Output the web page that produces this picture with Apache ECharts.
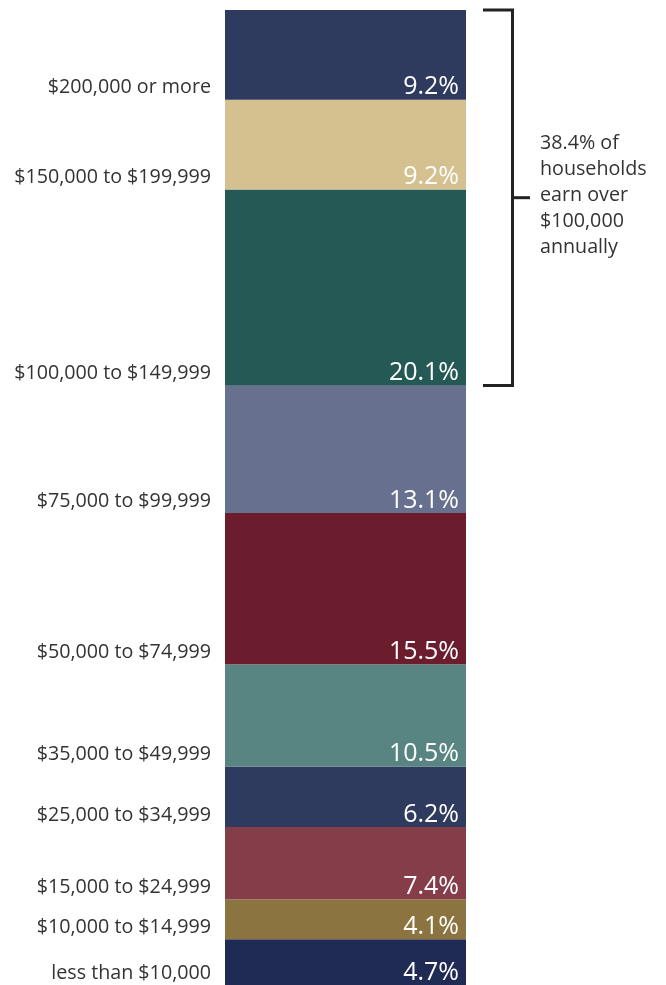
<!DOCTYPE html>
<html>
<head>
<meta charset="utf-8">
<script src="https://cdn.jsdelivr.net/npm/echarts@6/dist/echarts.min.js"></script>
<style>
html,body{margin:0;padding:0;background:#fff;}
#chart{width:666px;height:985px;}
</style>
</head>
<body>
<div id="chart"></div>
<script>
// bottom to top
const categories = [
  'less than $10,000',
  '$10,000 to $14,999',
  '$15,000 to $24,999',
  '$25,000 to $34,999',
  '$35,000 to $49,999',
  '$50,000 to $74,999',
  '$75,000 to $99,999',
  '$100,000 to $149,999',
  '$150,000 to $199,999',
  '$200,000 or more'
];
const shares = [4.7, 4.1, 7.4, 6.2, 10.5, 15.5, 13.1, 20.1, 9.2, 9.2];
const colors = ['#1f2a55', '#8b743f', '#853d4a', '#2f3b5e', '#588581', '#6c1d2d', '#67718f', '#255955', '#d5c190', '#2f3b5e'];
const bracketFrom = 7; // index of first category in the bracket ($100,000+)
const bracketText = ['38.4% of', 'households', 'earn over', '$100,000', 'annually'];

const FONT = 'Open Sans';
const series = [];
shares.forEach((v, i) => {
  series.push({
    type: 'bar', stack: 'v', barWidth: '100%', silent: true,
    data: [v],
    itemStyle: { color: colors[i] },
    label: {
      show: true, position: ['100%', '100%'], align: 'right', verticalAlign: 'bottom',
      offset: [-7, 0], color: '#fff', fontFamily: FONT, fontSize: 25,
      formatter: v.toFixed(1) + '%'
    }
  });
});
shares.forEach((v, i) => {
  series.push({
    type: 'bar', stack: 'c', barWidth: '100%', barGap: '-100%', silent: true,
    data: [v],
    itemStyle: { color: 'transparent' },
    label: {
      show: true, position: [0, '100%'], align: 'right', verticalAlign: 'bottom',
      offset: [-14, -2], color: '#333', fontFamily: FONT, fontSize: 19.7,
      formatter: categories[i]
    }
  });
});

const chart = echarts.init(document.getElementById('chart'), null, { renderer: 'canvas' });
chart.setOption({
  animation: false,
  grid: { left: 225, width: 241, top: 10, height: 979 },
  xAxis: { type: 'category', data: [''], show: false },
  yAxis: { type: 'value', min: 0, max: 100, show: false },
  series: series
});

const lowSum = shares.slice(0, bracketFrom).reduce((a, b) => a + b, 0);
const yTop = chart.convertToPixel({ yAxisIndex: 0 }, 100);
const yBot = chart.convertToPixel({ yAxisIndex: 0 }, lowSum);
const yMid = (yTop + yBot) / 2;
const xV = 512.5;
chart.setOption({
  graphic: [
    { type: 'polyline', shape: { points: [[483, yTop], [xV, yTop], [xV, yBot], [483, yBot]] },
      style: { stroke: '#222', lineWidth: 3, fill: null } },
    { type: 'line', shape: { x1: xV, y1: yMid, x2: 530, y2: yMid }, style: { stroke: '#222', lineWidth: 3 } },
    { type: 'text', x: 540, y: yMid - 2, style: { text: bracketText.join('\n'), fill: '#333',
      font: '19.7px "' + FONT + '"', lineHeight: 26, verticalAlign: 'middle', align: 'left' } }
  ]
});
</script>
</body>
</html>
